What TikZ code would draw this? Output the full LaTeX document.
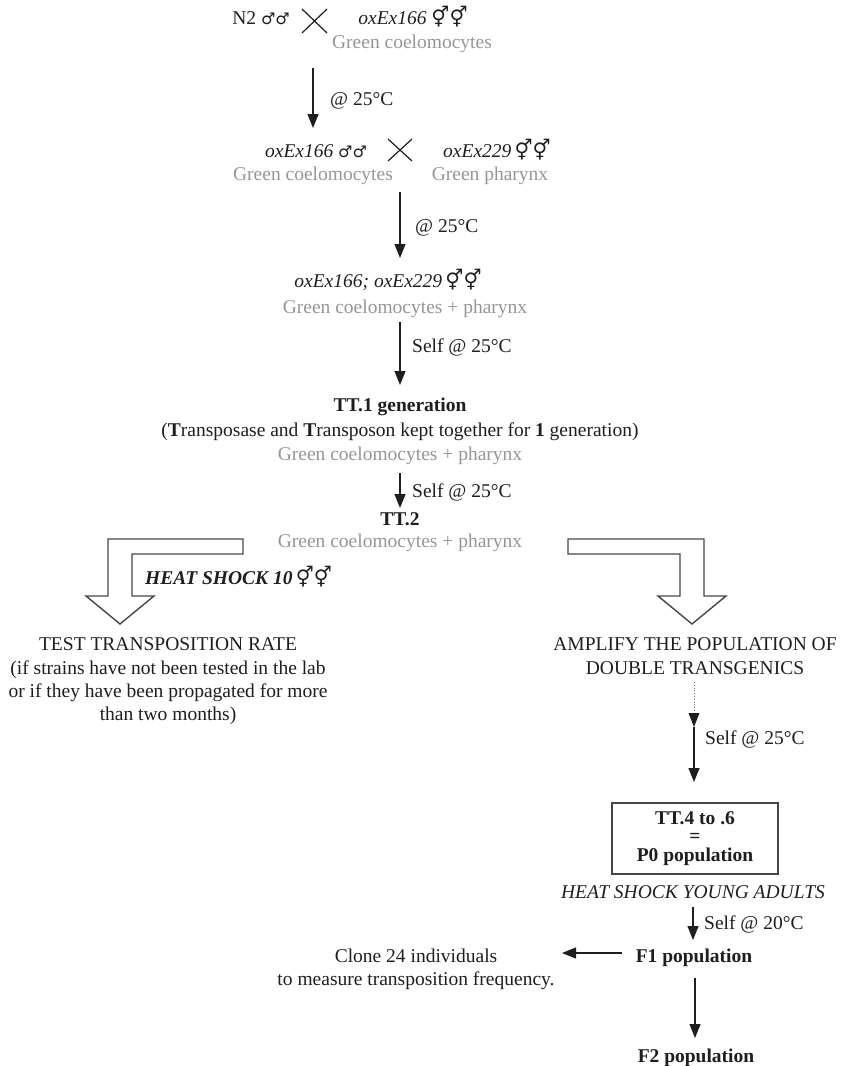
\documentclass[tikz,border=0pt]{standalone}
\usepackage{fontspec}
\setmainfont{Liberation Serif}
\newfontfamily\symfont{DejaVu Sans}
\usetikzlibrary{arrows.meta}
\definecolor{ink}{RGB}{30,30,30}
\definecolor{faded}{RGB}{150,150,150}
\definecolor{outline}{RGB}{70,70,70}
\newcommand{\males}{{\symfont\fontsize{16}{16}\selectfont ♂♂}}
\newcommand{\herms}{{\symfont\fontsize{20}{20}\selectfont ⚥⚥}}
\newcommand{\tinyC}{\textdegree C}

\begin{document}
\begin{tikzpicture}[x=1pt,y=-1pt,
  every node/.style={inner sep=0pt, anchor=base, text=ink,
    font=\fontsize{19.5}{23}\selectfont},
  gray/.style={text=faded},
  lbl/.style={anchor=base west},
  strong/.style={font=\fontsize{19.5}{23}\selectfont\bfseries},
  flow/.style={draw=ink, line width=1.2pt, -{Triangle[width=11pt,length=14pt]}},
  faint/.style={draw=ink!60, line width=0.8pt, dotted},
  cross/.style={draw=ink, line width=1.2pt},
  blockarrow/.style={draw=outline, line width=1.4pt, fill=white, line join=miter},
  framebox/.style={draw=outline, line width=1.4pt}]

\useasboundingbox (0,0) rectangle (845,1066);

% --- first cross
\node (n2) at (261,24) {N2 \males};
\node (ex166a) at (413,24) {\textit{oxEx166} \herms};
\node[gray] (gc1) at (412,48) {Green coelomocytes};
\draw[cross] (302,9) -- (327,33) (327,9) -- (302,33);
\coordinate (a1s) at (313,68);
\coordinate (a1e) at (313,128);
\draw[flow] (a1s) -- (a1e);
\node[lbl] (t1) at (330,105) {@ 25\tinyC};

% --- second cross
\node (ex166b) at (316,157) {\textit{oxEx166} \males};
\node (ex229) at (497,157) {\textit{oxEx229}\,\herms};
\node[gray] (gc2) at (313,180) {Green coelomocytes};
\node[gray] (gph) at (490,180) {Green pharynx};
\draw[cross] (388,139) -- (412,161) (412,139) -- (388,161);
\coordinate (a2s) at (400,192);
\coordinate (a2e) at (400,258);
\draw[flow] (a2s) -- (a2e);
\node[lbl] (t2) at (415,232) {@ 25\tinyC};

% --- double transgenic
\node (dbl) at (388,287) {\textit{oxEx166; oxEx229}\,\herms};
\node[gray] (gcp1) at (405,313) {Green coelomocytes + pharynx};
\coordinate (a3s) at (400,322);
\coordinate (a3e) at (400,385);
\draw[flow] (a3s) -- (a3e);
\node[lbl] (t3) at (412,352) {Self @ 25\tinyC};

% --- TT.1
\node[strong] (tt1) at (400,411) {TT.1 generation};
\node (tt1d) at (400,436) {(\textbf{T}ransposase and \textbf{T}ransposon kept together for \textbf{1} generation)};
\node[gray] (gcp2) at (400,460) {Green coelomocytes + pharynx};
\coordinate (a4s) at (400,473);
\coordinate (a4e) at (400,508);
\draw[flow] (a4s) -- (a4e);
\node[lbl] (t4) at (412,497) {Self @ 25\tinyC};

% --- TT.2
\node[strong] (tt2) at (400,525) {TT.2};
\node[gray] (gcp3) at (400,547) {Green coelomocytes + pharynx};

% --- split block arrows
\draw[blockarrow] (243,539) -- (108,539) -- (108,596) -- (86,596) -- (120,624)
  -- (154,596) -- (132,596) -- (132,554) -- (243,554) -- cycle;
\draw[blockarrow] (568,539) -- (704,539) -- (704,596) -- (726,596) -- (692,624)
  -- (658,596) -- (680,596) -- (680,554) -- (568,554) -- cycle;
\node[lbl, font=\fontsize{19.5}{23}\selectfont\bfseries\itshape] (hs10) at (145,584) {HEAT SHOCK 10\,\herms};

% --- left branch
\node (test1) at (168,650) {TEST TRANSPOSITION RATE};
\node (test2) at (168,674) {(if strains have not been tested in the lab};
\node (test3) at (168,697) {or if they have been propagated for more};
\node (test4) at (168,720) {than two months)};

% --- right branch
\node (amp1) at (695,650) {AMPLIFY THE POPULATION OF};
\node (amp2) at (695,674) {DOUBLE TRANSGENICS};
\coordinate (a5s) at (694,682);
\coordinate (a5m) at (694,727);
\coordinate (a5e) at (694,782);
\draw[faint] (a5s) -- (a5m);
\draw[flow] (a5m) -- (a5e);
\fill[ink] (a5m) ++(-5.5,-14) -- ++(11,0) -- (a5m) -- cycle;
\node[lbl] (t5) at (705,744) {Self @ 25\tinyC};

% --- P0 box
\node[framebox, anchor=center, minimum width=166pt, minimum height=71pt,
  align=center, font=\fontsize{19.5}{18.5}\selectfont\bfseries] (p0) at (695,838.5)
  {TT.4 to .6\\=\\P0 population};
\node[font=\fontsize{19.5}{23}\selectfont\itshape] (hsya) at (693,898) {HEAT SHOCK YOUNG ADULTS};

\coordinate (a6s) at (693,907);
\coordinate (a6e) at (693,940);
\draw[flow] (a6s) -- (a6e);
\node[lbl] (t6) at (704,929) {Self @ 20\tinyC};

% --- F1 and the cloning branch
\node[strong] (f1) at (694,962) {F1 population};
\node (cl1) at (416,962) {Clone 24 individuals};
\node (cl2) at (416,985) {to measure transposition frequency.};
\coordinate (a7s) at (622,953);
\coordinate (a7e) at (562,953);
\draw[flow] (a7s) -- (a7e);

% --- F2
\coordinate (a8s) at (695,978);
\coordinate (a8e) at (695,1038);
\draw[flow] (a8s) -- (a8e);
\node[strong] (f2) at (696,1062) {F2 population};
\end{tikzpicture}
\end{document}
